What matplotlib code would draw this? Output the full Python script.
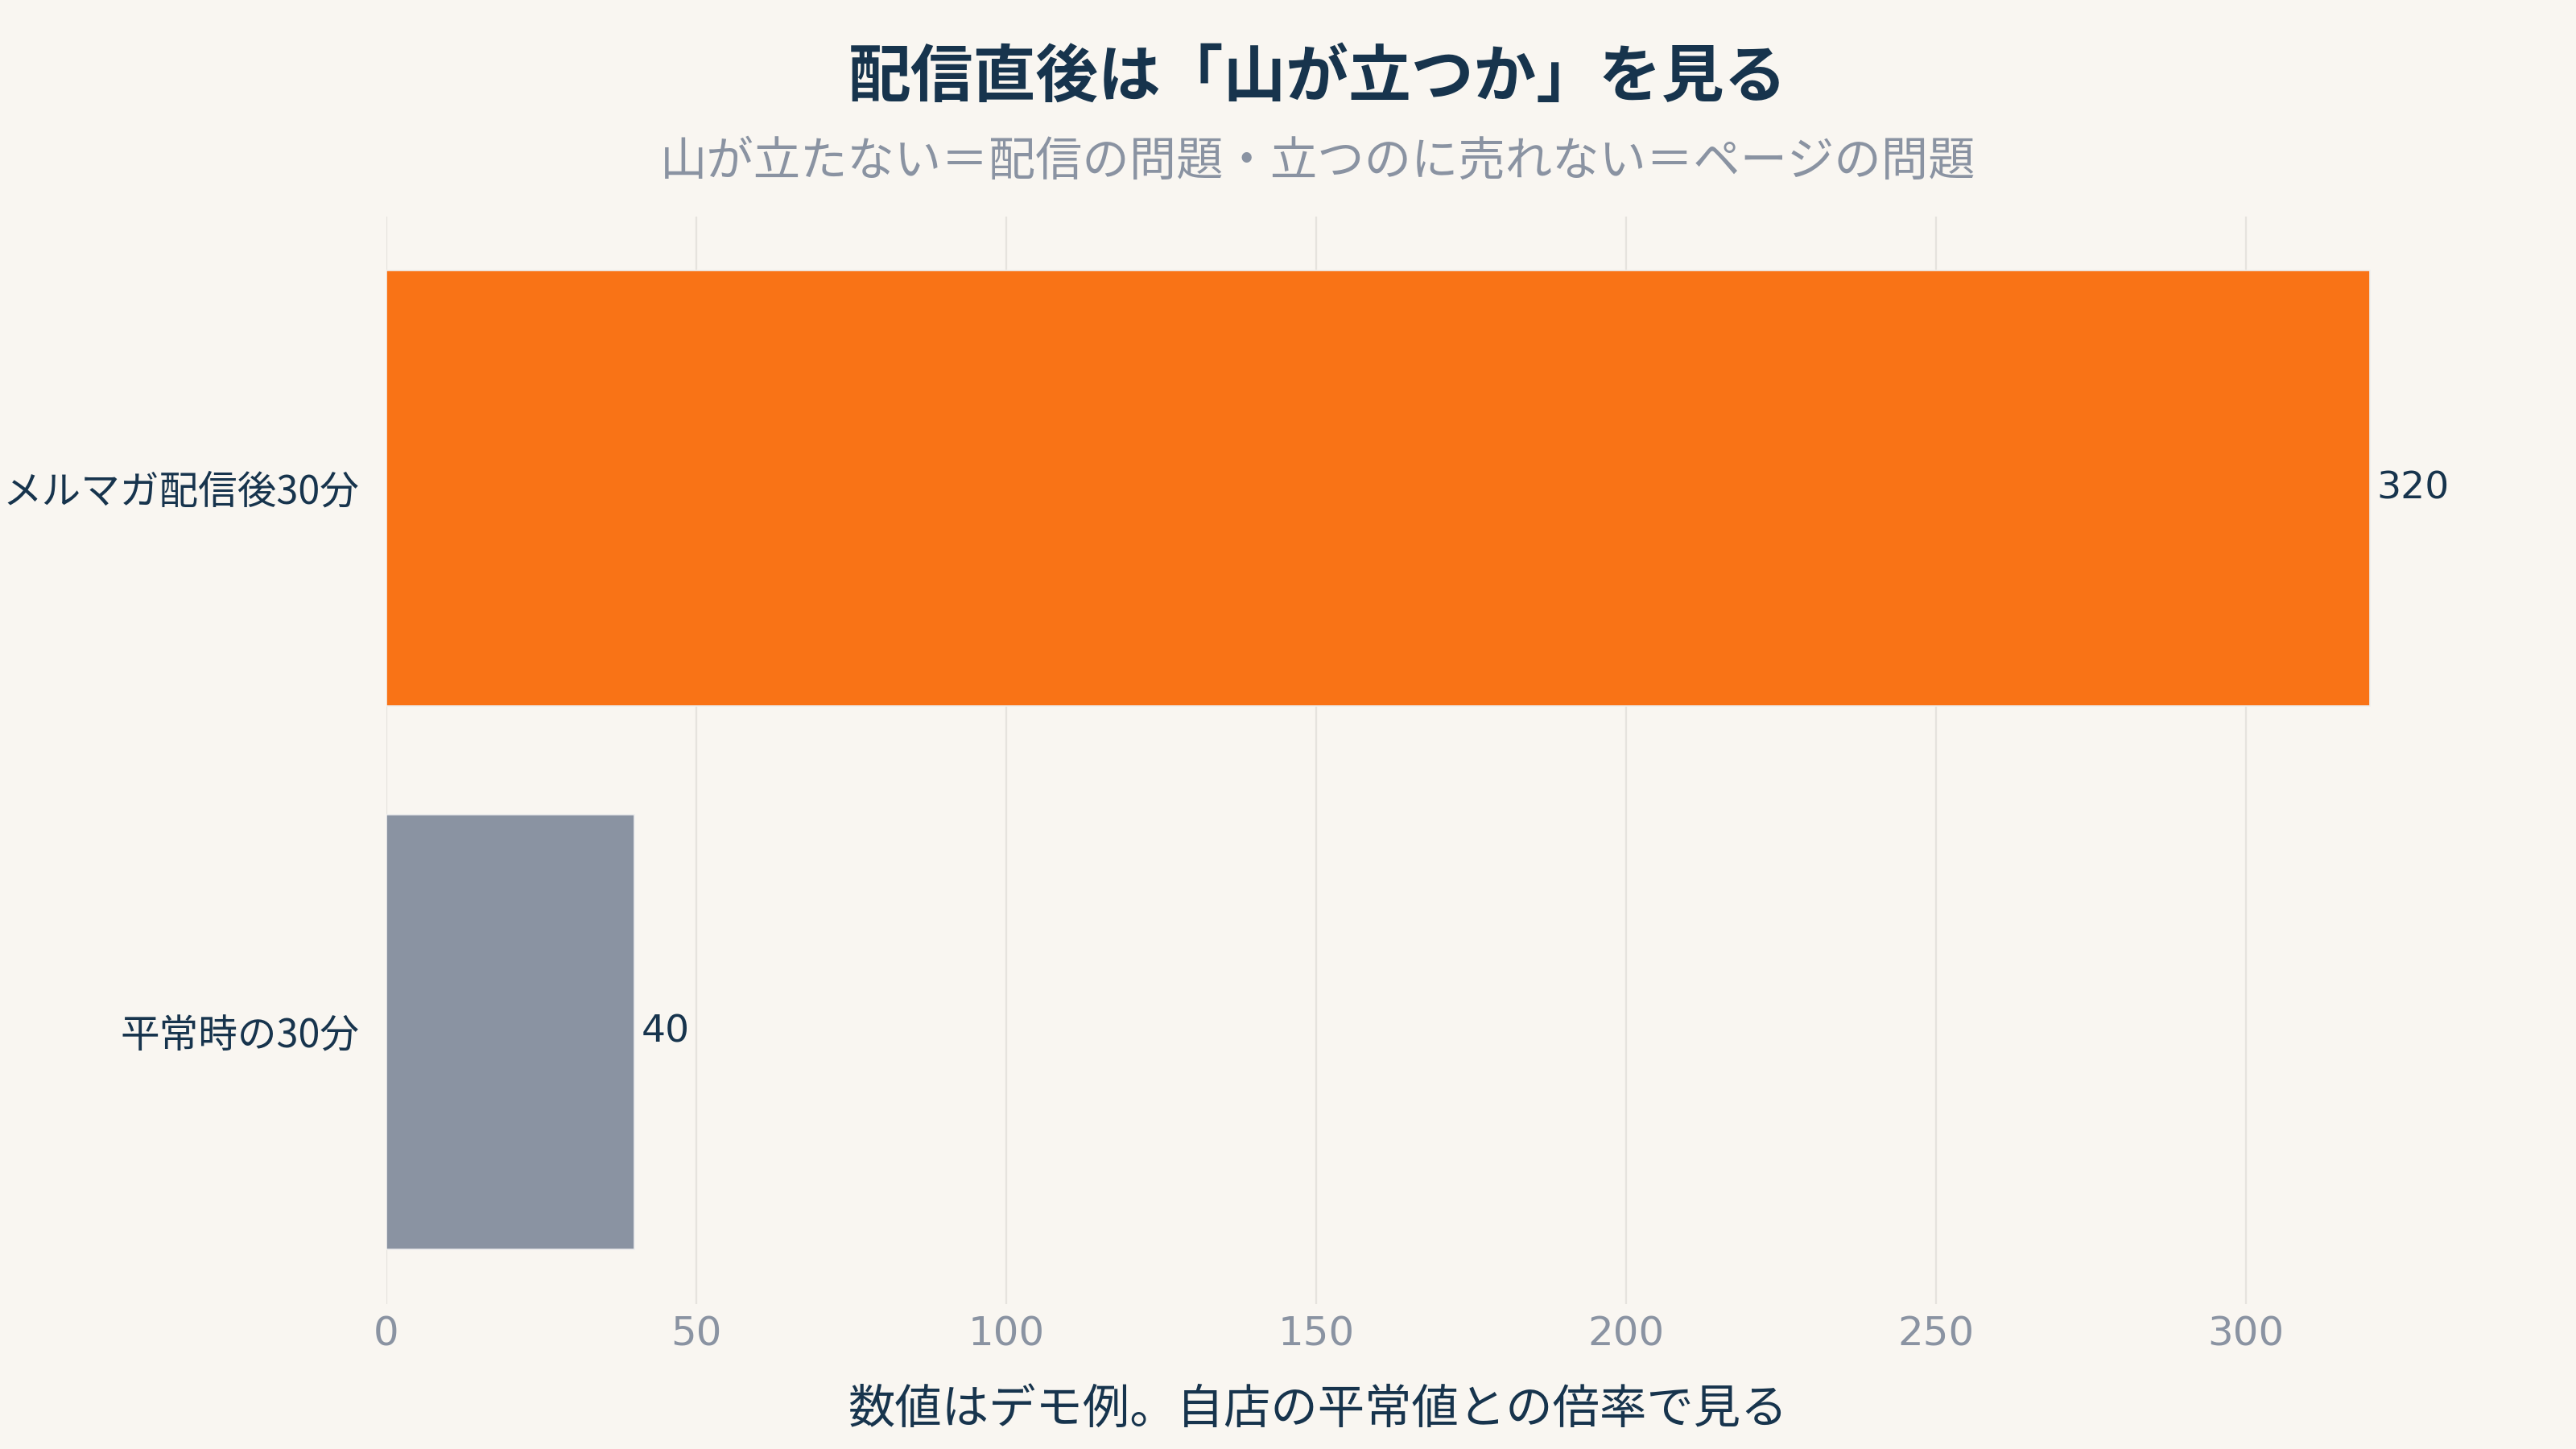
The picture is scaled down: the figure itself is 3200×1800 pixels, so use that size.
import matplotlib
matplotlib.use("Agg")
import matplotlib.pyplot as plt

plt.rcParams['font.family'] = ['Noto Sans CJK JP', 'DejaVu Sans']

categories = ['平常時の30分', 'メルマガ配信後30分']
values = [40, 320]
bar_colors = ['#8a93a2', '#f97316']
xticks = [0, 50, 100, 150, 200, 250, 300]
title = '配信直後は「山が立つか」を見る'
subtitle = '山が立たない＝配信の問題・立つのに売れない＝ページの問題'
xlabel = '数値はデモ例。自店の平常値との倍率で見る'

BG = '#f9f6f1'
NAVY = '#17344d'
GRAY = '#8a93a2'
NUMFONT = ['DejaVu Sans', 'Noto Sans CJK JP']

fig = plt.figure(figsize=(16, 9), dpi=200, facecolor=BG)
ax = fig.add_axes([0.15, 0.1, 0.8085, 0.7506], facecolor=BG)

ypos = list(range(len(categories)))
bars = ax.barh(ypos, values, height=0.8, color=bar_colors,
               edgecolor='#eeeeee', linewidth=0.6, zorder=2)
ax.set_ylim(-0.5, len(categories) - 0.5)
ax.set_xlim(0, 336)
ax.set_yticks(ypos)
ax.set_yticklabels(categories, fontsize=17.5, color=NAVY)
ax.set_xticks(xticks)
ax.set_xticklabels([str(t) for t in xticks], fontsize=18, color=GRAY,
                   family=NUMFONT)
ax.tick_params(axis='both', length=0)
ax.tick_params(axis='y', pad=12)
ax.tick_params(axis='x', pad=5)
ax.grid(axis='x', color='#e6e3de', linewidth=0.8, zorder=0)
ax.set_axisbelow(True)
for s in ax.spines.values():
    s.set_visible(False)

for b, v in zip(bars, values):
    ax.annotate(str(v), xy=(v, b.get_y() + b.get_height() / 2),
                xytext=(3, 0), textcoords='offset points',
                ha='left', va='center', fontsize=17, color=NAVY,
                family=NUMFONT)

cx = 0.5115
fig.text(cx, 0.946, title, ha='center', va='center', fontsize=28,
         fontweight='bold', color=NAVY)
fig.text(cx, 0.888, subtitle, ha='center', va='center', fontsize=21,
         color=GRAY)
fig.text(cx, 0.027, xlabel, ha='center', va='center', fontsize=21,
         color=NAVY)

fig.savefig('out.png', dpi=200, facecolor=BG)
